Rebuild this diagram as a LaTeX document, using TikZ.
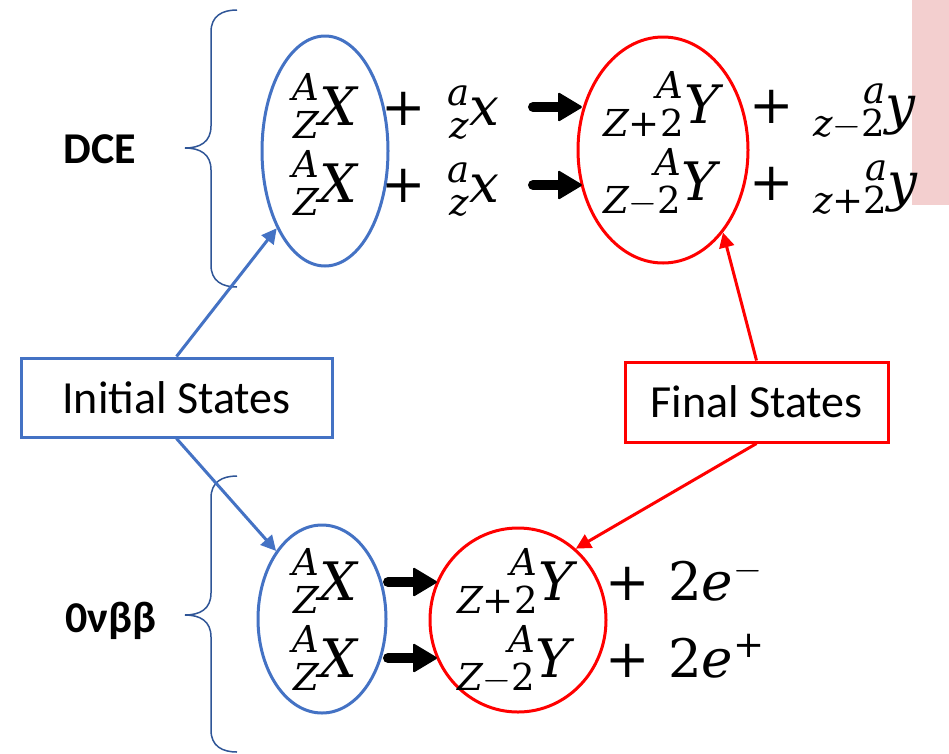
\RequirePackage{fix-cm}
\documentclass[tikz,border=0pt]{standalone}
\usepackage{mathtools}
\usepackage[no-math]{fontspec}
\setsansfont{Carlito}
\newfontfamily\dvserif{DejaVu Serif}[NFSSFamily=dvserif]
\DeclareSymbolFont{letters}{TU}{dvserif}{m}{it}
\DeclareSymbolFont{operators}{TU}{dvserif}{m}{n}
\usetikzlibrary{shapes.geometric,arrows.meta}
\definecolor{oblue}{RGB}{68,114,196}
\definecolor{bracec}{RGB}{47,85,151}
\definecolor{pinkc}{RGB}{243,207,207}
\begin{document}
\begin{tikzpicture}[x=1pt,y=-1pt,
  eq/.style={inner sep=0pt, anchor=base west, font=\fontsize{53}{58}\selectfont},
  eqc/.style={inner sep=0pt, anchor=base, font=\fontsize{53}{58}\selectfont},
  bell/.style={ellipse, draw=oblue, line width=3pt, inner sep=0pt},
  rell/.style={ellipse, draw=red, line width=3pt, inner sep=0pt},
  statebox/.style={rectangle, line width=3pt, font=\sffamily\fontsize{46}{50}\selectfont, inner sep=0pt},
  lbl/.style={font=\sffamily\bfseries\fontsize{44}{48}\selectfont, inner sep=0pt, anchor=base},
  conn/.style={line width=3pt, -{Triangle[length=15pt,width=15pt]}},
  brace/.style={draw=bracec, line width=1.5pt},
  heavyarrow/.pic={\draw[line width=10pt, line cap=round] (5,0) -- (34,0);
    \fill[rounded corners=1.5pt] (30,-15) -- (55,0) -- (30,15) -- cycle;}
]
\useasboundingbox (0,0) rectangle (949,753);
\fill[white] (0,0) rectangle (949,753);
\fill[pinkc] (912,0) rectangle (949,205);

% braces
\draw[brace] (237,10) .. controls (222,10) and (211,16) .. (211,32) -- (211,126)
  .. controls (211,142) and (200,148) .. (185,148)
  .. controls (200,148) and (211,154) .. (211,170) -- (211,265)
  .. controls (211,281) and (222,287) .. (237,287);
\draw[brace] (237,476) .. controls (222,476) and (211,482) .. (211,498) -- (211,593)
  .. controls (211,609) and (200,615) .. (185,615)
  .. controls (200,615) and (211,621) .. (211,637) -- (211,730)
  .. controls (211,746) and (222,752) .. (237,752);

\node[lbl] (dce) at (100,163) {DCE};
\node[lbl] (nbb) at (111,632) {0νββ};

% ellipses
\node[bell, minimum width=126pt, minimum height=230pt] (be1) at (325,151) {};
\node[rell, minimum width=170pt, minimum height=226pt] (re1) at (663,150) {};
\node[bell, minimum width=128pt, minimum height=188pt] (be2) at (322,619) {};
\node[rell, minimum width=176pt, minimum height=184pt] (re2) at (518,620) {};

% state boxes
\node[statebox, draw=oblue, minimum width=311pt, minimum height=79pt] (init) at (176.5,397.5) {Initial States};
\node[statebox, draw=red, minimum width=263pt, minimum height=80pt] (final) at (756.5,402) {Final States};

% connectors
\draw[conn, oblue] (init.north) -- (be1.238);
\draw[conn, oblue] (init.south) -- (be2.124);
\draw[conn, red] (final.north) -- (re1.-54);
\draw[conn, red] (final.south) -- (re2.51);

% DCE equations
\node[eq] (r1a) at (292,125) {$\prescript{A}{Z}{X}$};
\node[eqc] (r1p) at (404,125) {${+}$};
\node[eq] (r1b) at (447,125) {$\prescript{a}{z}{x}$};
\pic at (528,107) {heavyarrow};
\node[eq] (r1c) at (603,123) {$\prescript{A}{Z+2}{Y}$};
\node[eqc] (r1q) at (772,123) {${+}$};
\node[eq] (r1d) at (813,123) {$\prescript{a}{z-2}{y}$};

\node[eq] (r2a) at (292,202) {$\prescript{A}{Z}{X}$};
\node[eqc] (r2p) at (404,202) {${+}$};
\node[eq] (r2b) at (447,202) {$\prescript{a}{z}{x}$};
\pic at (528,185) {heavyarrow};
\node[eq] (r2c) at (603,200) {$\prescript{A}{Z-2}{Y}$};
\node[eqc] (r2q) at (772,200) {${+}$};
\node[eq] (r2d) at (813,200) {$\prescript{a}{z+2}{y}$};

% 0vbb equations
\node[eq] (b1a) at (292,600) {$\prescript{A}{Z}{X}$};
\pic at (383,582) {heavyarrow};
\node[eq] (b1b) at (457,600) {$\prescript{A}{Z+2}{Y}$};
\node[eqc] (b1p) at (628,600) {${+}$};
\node[eq] (b1c) at (668,600) {$2e^{-}$};

\node[eq] (b2a) at (292,677) {$\prescript{A}{Z}{X}$};
\pic at (383,658) {heavyarrow};
\node[eq] (b2b) at (457,677) {$\prescript{A}{Z-2}{Y}$};
\node[eqc] (b2p) at (628,677) {${+}$};
\node[eq] (b2c) at (668,677) {$2e^{+}$};
\end{tikzpicture}
\end{document}
